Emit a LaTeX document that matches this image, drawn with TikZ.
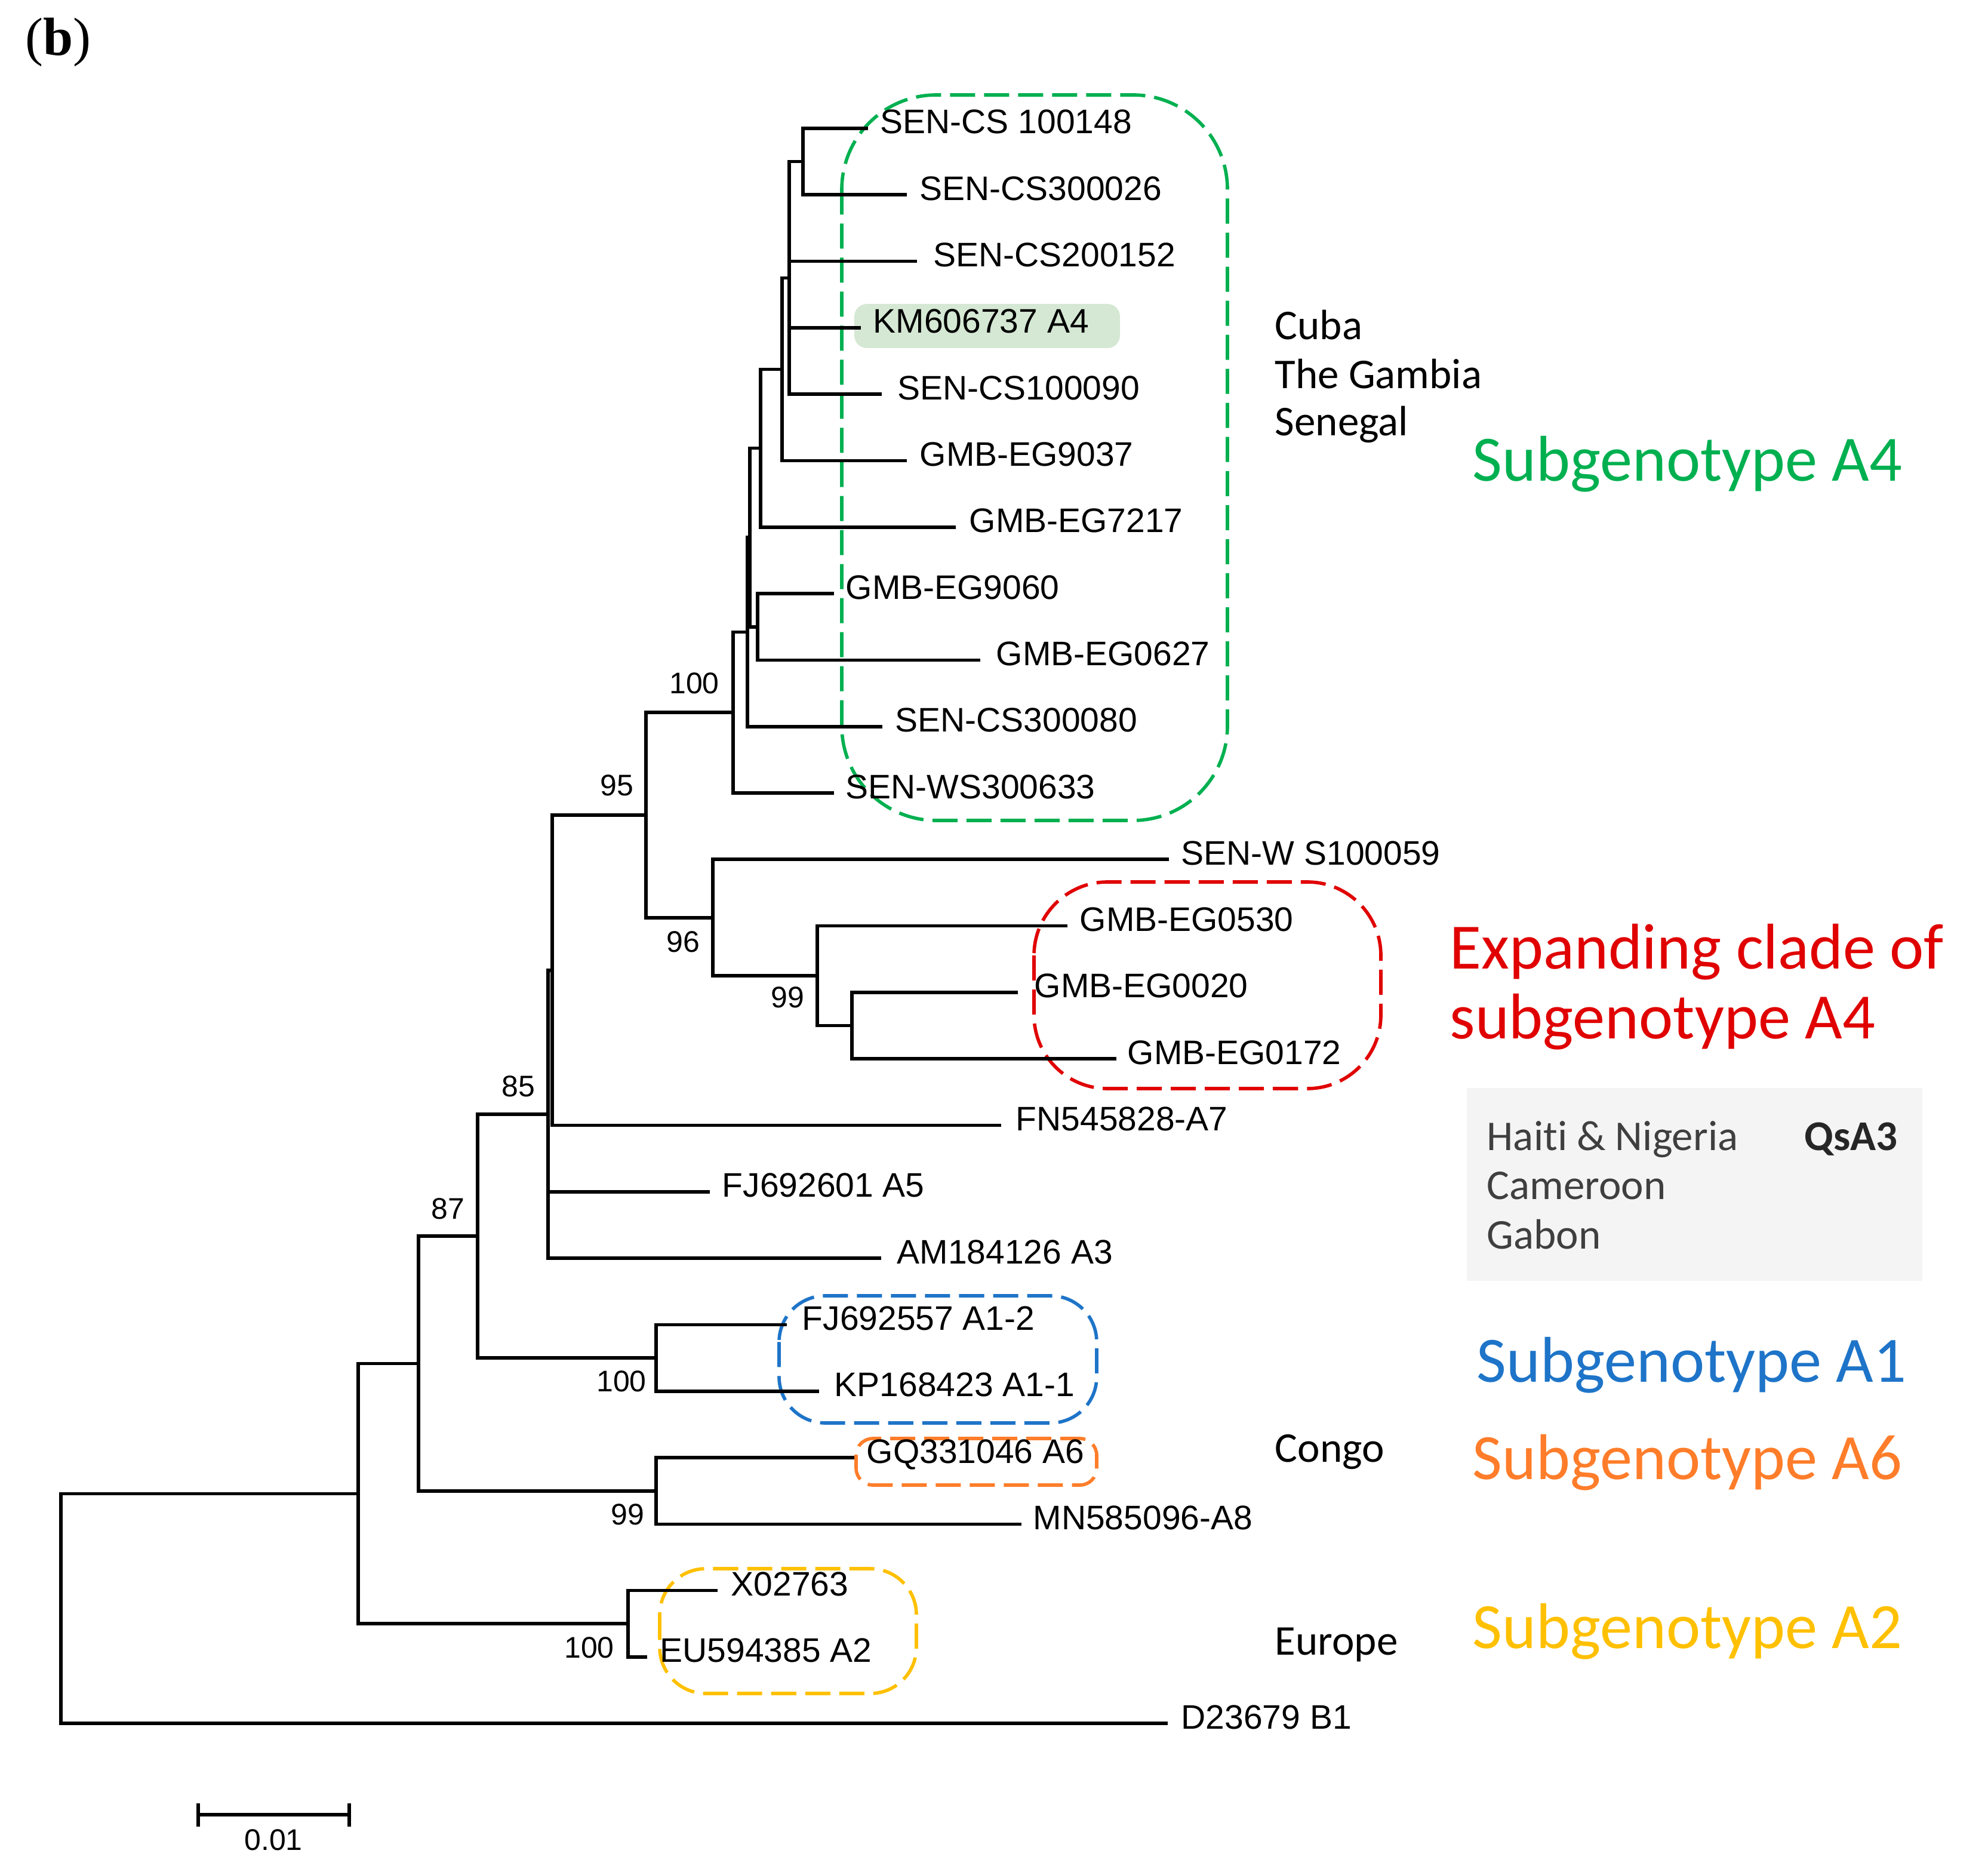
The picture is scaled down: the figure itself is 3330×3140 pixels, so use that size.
\documentclass[tikz,border=0pt]{standalone}
\usepackage{fontspec}
\setmainfont{Liberation Sans}
\newfontfamily\carl[Ligatures=NoCommon]{Carlito}
\newfontfamily\serifb{Liberation Serif}
\definecolor{cgreen}{HTML}{00B050}
\definecolor{cred}{HTML}{E00000}
\definecolor{cblue}{HTML}{1E74C8}
\definecolor{corange}{HTML}{FF7D2A}
\definecolor{cyellow}{HTML}{FFC000}
\definecolor{hlgreen}{HTML}{D5E8D4}
\definecolor{boxgray}{HTML}{F4F4F4}
\definecolor{dgray}{HTML}{3F3F3F}
\tikzset{
  branch/.style={line width=1.6pt, line join=miter},
  leaf/.style={anchor=base west, inner sep=0pt, font=\fontsize{16.2pt}{18pt}\selectfont},
  boot/.style={inner sep=0pt, font=\fontsize{14.2pt}{16pt}\selectfont},
  place/.style={anchor=base west, inner sep=0pt, font=\carl\fontsize{20.2pt}{22pt}\selectfont},
  big/.style={anchor=base west, inner sep=0pt, font=\carl\fontsize{30.8pt}{33pt}\selectfont},
  clade/.style={line width=1.6pt, dash pattern=on 0.42cm off 0.15cm},
}
\begin{document}
\begin{tikzpicture}[x=0.01cm, y=-0.01cm]
\path[use as bounding box] (0,0) rectangle (3330,3140);

% panel label
\node[anchor=base west, inner sep=0pt, font=\serifb\fontsize{25.6pt}{28pt}\selectfont] (panel) at (42,93) {(\textbf{b})};

% background boxes
\fill[hlgreen, rounded corners=6] (1431,509) rectangle (1876,583);
\fill[boxgray] (2457,1822) rectangle (3220,2145);

% clade boxes
\draw[clade, cgreen, rounded corners=45] (1410,159) rectangle (2056,1374);
\draw[clade, cred, rounded corners=35] (1732,1477) rectangle (2313,1823);
\draw[clade, cblue, rounded corners=22] (1305,2170) rectangle (1837,2383);
\draw[clade, corange, rounded corners=8] (1434,2409) rectangle (1837,2487);
\draw[clade, cyellow, rounded corners=22] (1105,2627) rectangle (1535,2836);

% leaf tips
\coordinate (L0) at (1454,215);
\coordinate (L1) at (1519,326.3);
\coordinate (L2) at (1536,437.6);
\coordinate (L3) at (1442,548.9);
\coordinate (L4) at (1477,660.2);
\coordinate (L5) at (1519,771.5);
\coordinate (L6) at (1601,882.8);
\coordinate (L7) at (1397,994.1);
\coordinate (L8) at (1642,1105.4);
\coordinate (L9) at (1478,1216.7);
\coordinate (L10) at (1397,1328);
\coordinate (L11) at (1958,1439.3);
\coordinate (L12) at (1788,1550.6);
\coordinate (L13) at (1705,1661.9);
\coordinate (L14) at (1870,1773.2);
\coordinate (L15) at (1677,1884.5);
\coordinate (L16) at (1189,1995.8);
\coordinate (L17) at (1476,2107.1);
\coordinate (L18) at (1318,2218.4);
\coordinate (L19) at (1372,2329.7);
\coordinate (L20) at (1431,2441);
\coordinate (L21) at (1711,2552.3);
\coordinate (L22) at (1202,2663.6);
\coordinate (L23) at (1084,2774.9);
\coordinate (L24) at (1956,2886.2);

% internal nodes
\coordinate (D) at (1345,270.65);
\coordinate (C) at (1322,465.4);
\coordinate (E) at (1310,618.5);
\coordinate (F) at (1274,750.6);
\coordinate (H) at (1269,1049.75);
\coordinate (G) at (1256,900.2);
\coordinate (B) at (1252,1058.4);
\coordinate (A) at (1228,1193.2);
\coordinate (N99b) at (1427,1717.55);
\coordinate (N99) at (1369,1634.1);
\coordinate (N96) at (1194,1536.7);
\coordinate (N95) at (1082,1365);
\coordinate (X) at (925,1624.7);
\coordinate (Y) at (918,1865.9);
\coordinate (NA1) at (1099,2274);
\coordinate (Z) at (800,2070);
\coordinate (NA6) at (1099,2496.7);
\coordinate (W) at (701,2283.3);
\coordinate (NA2) at (1052,2719.25);
\coordinate (V) at (600,2501.3);
\coordinate (R) at (102,2693.7);

% branches
\foreach \p/\c in {R/V, R/L24, V/W, V/NA2, NA2/L22, NA2/L23, W/Z, W/NA6, NA6/L20, NA6/L21,
  Z/Y, Z/NA1, NA1/L18, NA1/L19, Y/X, Y/L16, Y/L17, X/N95, X/L15, N95/A, N95/N96,
  N96/L11, N96/N99, N99/L12, N99/N99b, N99b/L13, N99b/L14, A/B, A/L10, B/G, B/L9,
  G/F, G/H, H/L7, H/L8, F/E, F/L6, E/C, E/L5, C/D, C/L2, C/L3, C/L4, D/L0, D/L1}
  \draw[branch] (\p) |- (\c);

% leaf labels
\node[leaf] (t0) at (1474,224) {SEN-CS 100148};
\node[leaf] (t1) at (1540,335.3) {SEN-CS300026};
\node[leaf] (t2) at (1563,446.6) {SEN-CS200152};
\node[leaf] (t3) at (1462,557.9) {KM606737 A4};
\node[leaf] (t4) at (1503,669.2) {SEN-CS100090};
\node[leaf] (t5) at (1540,780.5) {GMB-EG9037};
\node[leaf] (t6) at (1623,891.8) {GMB-EG7217};
\node[leaf] (t7) at (1416,1003.1) {GMB-EG9060};
\node[leaf] (t8) at (1668,1114.4) {GMB-EG0627};
\node[leaf] (t9) at (1499,1225.7) {SEN-CS300080};
\node[leaf] (t10) at (1416,1337) {SEN-WS300633};
\node[leaf] (t11) at (1978,1448.3) {SEN-W S100059};
\node[leaf] (t12) at (1808,1559.6) {GMB-EG0530};
\node[leaf] (t13) at (1732,1670.9) {GMB-EG0020};
\node[leaf] (t14) at (1888,1782.2) {GMB-EG0172};
\node[leaf] (t15) at (1701,1893.5) {FN545828-A7};
\node[leaf] (t16) at (1209,2004.8) {FJ692601 A5};
\node[leaf] (t17) at (1502,2116.1) {AM184126 A3};
\node[leaf] (t18) at (1343,2227.4) {FJ692557 A1-2};
\node[leaf] (t19) at (1397,2338.7) {KP168423 A1-1};
\node[leaf] (t20) at (1451,2450) {GQ331046 A6};
\node[leaf] (t21) at (1730,2561.3) {MN585096-A8};
\node[leaf] (t22) at (1224,2672.6) {X02763};
\node[leaf] (t23) at (1105,2783.9) {EU594385 A2};
\node[leaf] (t24) at (1978,2895.2) {D23679 B1};

% bootstrap values
\node[boot] (bA) at (1163,1144) {100};
\node[boot] (b95) at (1033,1315) {95};
\node[boot] (b96) at (1144,1577) {96};
\node[boot] (b99) at (1319,1670) {99};
\node[boot] (b85) at (868,1819) {85};
\node[boot] (b87) at (750,2024) {87};
\node[boot] (bA1) at (1041,2313) {100};
\node[boot] (bA6) at (1051,2536) {99};
\node[boot] (bA2) at (987,2759) {100};

% right-hand annotations
\node[place] (cuba) at (2135,569) {Cuba};
\node[place] (gambia) at (2135,651) {The Gambia};
\node[place] (senegal) at (2135,730) {Senegal};
\node[big, text=cgreen] (sA4) at (2466,806) {Subgenotype A4};
\node[big, text=cred] (exp1) at (2428,1622) {Expanding clade of};
\node[big, text=cred] (exp2) at (2428,1739) {subgenotype A4};
\node[place, text=dgray] (haiti) at (2490,1926) {Haiti \& Nigeria};
\node[place, font=\carl\bfseries\fontsize{20.2pt}{22pt}\selectfont, text=black!85] (qsa3) at (3022,1926) {QsA3};
\node[place, text=dgray] (cameroon) at (2490,2008) {Cameroon};
\node[place, text=dgray] (gabon) at (2490,2091) {Gabon};
\node[big, text=cblue] (sA1) at (2473,2314) {Subgenotype A1};
\node[place] (congo) at (2135,2448) {Congo};
\node[big, text=corange] (sA6) at (2466,2477) {Subgenotype A6};
\node[place] (europe) at (2135,2771) {Europe};
\node[big, text=cyellow] (sA2) at (2466,2760) {Subgenotype A2};

% scale bar
\coordinate (sbL) at (332,3039);
\coordinate (sbR) at (585,3039);
\draw[branch] (sbL) -- (sbR);
\draw[branch] ([yshift=5.4pt]sbL) -- ([yshift=-5.7pt]sbL);
\draw[branch] ([yshift=5.4pt]sbR) -- ([yshift=-5.7pt]sbR);
\node[boot, anchor=base] (sblab) at (458,3098) {0.01};
\end{tikzpicture}
\end{document}
